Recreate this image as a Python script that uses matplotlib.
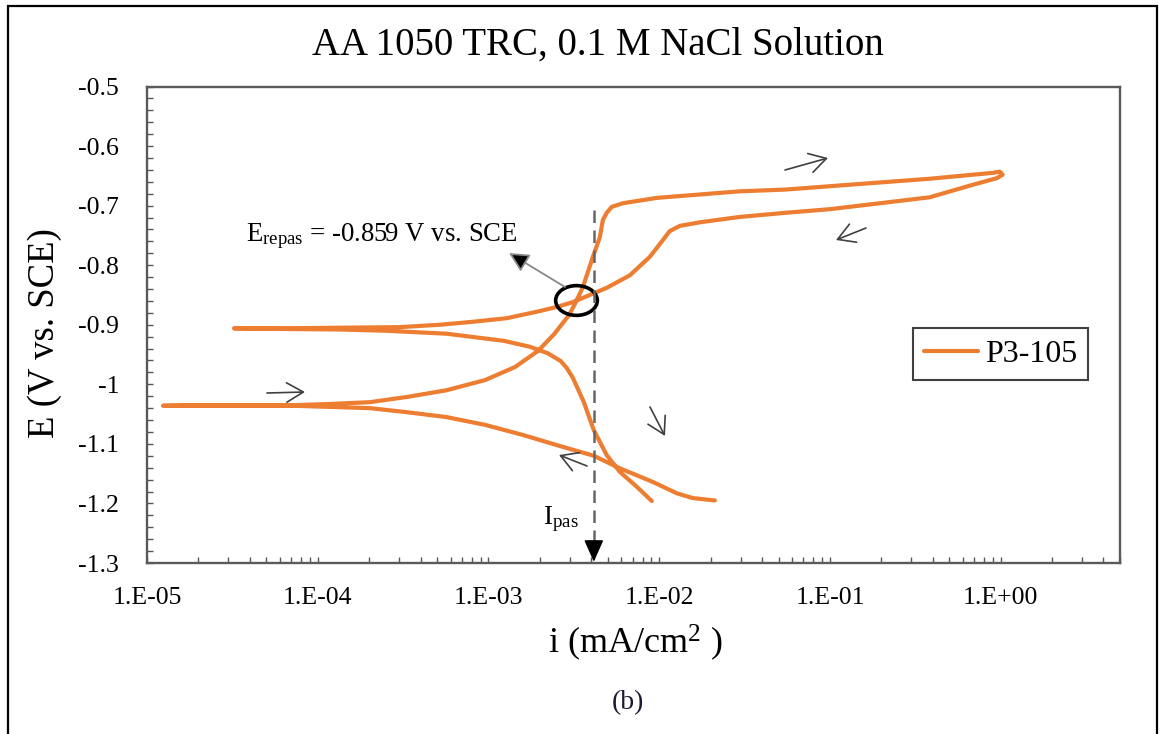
import matplotlib
matplotlib.use('Agg')
import matplotlib.pyplot as plt
from matplotlib.path import Path
from matplotlib.transforms import Affine2D
from matplotlib.ticker import LogLocator, MultipleLocator, FuncFormatter, NullFormatter
from matplotlib.patches import Rectangle
import numpy as np

plt.rcParams['font.family'] = ['Liberation Serif', 'DejaVu Serif']
plt.rcParams['mathtext.fontset'] = 'custom'
plt.rcParams['mathtext.rm'] = 'Liberation Serif'
plt.rcParams['mathtext.it'] = 'Liberation Serif:italic'

# forward scan: cathodic branch towards Ecorr, then anodic branch up to ~1 mA/cm2
i_fwd = [0.0212, 0.0157, 0.0127, 0.0092, 0.00588, 0.00414, 0.00265, 0.00159,
         0.000953, 0.000567, 0.000337, 0.000202, 0.000120, 7.2e-5, 4.0e-5, 2.0e-5, 1.24e-5,
         2.0e-5, 4.0e-5, 7.2e-5, 0.000118, 0.000202, 0.000337, 0.000567, 0.000953,
         0.00143, 0.00195, 0.00242, 0.00296, 0.00325, 0.00357, 0.00409, 0.00449,
         0.00468, 0.00493, 0.00528, 0.00612, 0.00968, 0.0296, 0.0551, 0.1435,
         0.379, 0.898, 0.987, 1.027]
E_fwd = [-1.195, -1.191, -1.183, -1.164, -1.141, -1.120, -1.104, -1.085,
         -1.068, -1.055, -1.047, -1.040, -1.038, -1.036, -1.036, -1.036, -1.036,
         -1.035, -1.035, -1.035, -1.033, -1.030, -1.021, -1.010, -0.993,
         -0.971, -0.944, -0.916, -0.884, -0.862, -0.837, -0.786, -0.753,
         -0.724, -0.712, -0.702, -0.696, -0.687, -0.676, -0.673, -0.664,
         -0.655, -0.645, -0.643, -0.648]

# reverse scan: back down through Erepas to the second Ecorr, then cathodic branch
i_rev = [0.948, 0.686, 0.384, 0.196, 0.0997, 0.0551, 0.0296, 0.0173, 0.0132,
         0.0115, 0.0105, 0.00881, 0.00673, 0.00493, 0.00392, 0.00312, 0.00252,
         0.00200, 0.00128, 0.000811, 0.000519, 0.000303, 0.000135, 6.0e-5, 3.23e-5,
         6.0e-5, 0.000135, 0.000247, 0.000567, 0.00123, 0.00175, 0.00223, 0.00265,
         0.00288, 0.00312, 0.00362, 0.00414, 0.00493, 0.00588, 0.00739, 0.00905]
E_rev = [-0.654, -0.665, -0.686, -0.696, -0.706, -0.712, -0.719, -0.728, -0.734,
         -0.743, -0.758, -0.786, -0.817, -0.838, -0.850, -0.862, -0.870,
         -0.877, -0.889, -0.895, -0.900, -0.904, -0.905, -0.906, -0.906,
         -0.907, -0.908, -0.910, -0.915, -0.927, -0.937, -0.948, -0.961,
         -0.973, -0.989, -1.030, -1.077, -1.119, -1.147, -1.172, -1.196]

E_repas = -0.859
i_repas = 3.25e-3
i_pas = 4.14e-3
E_pas_line = [-0.707, -1.275]
E_pas_tip = -1.298

x_ticks = [1e-5, 1e-4, 1e-3, 1e-2, 1e-1, 1e0]
x_labels = ['1.E-05', '1.E-04', '1.E-03', '1.E-02', '1.E-01', '1.E+00']

W, H = 1159, 734


def px(x, y):
    # reference pixel -> figure fraction
    return (x / W, 1 - y / H)


fig = plt.figure(figsize=(W / 100, H / 100), dpi=100)
ax = fig.add_axes([147 / W, 1 - 563 / H, (1120 - 147) / W, (563 - 86.5) / H])

orange = '#ED7D31'
ax.plot(i_fwd + i_rev, E_fwd + E_rev, color=orange, lw=3, solid_capstyle='round',
        solid_joinstyle='round', label='P3-105')

ax.set_xscale('log')
ax.set_xlim(1e-5, 5)
ax.set_ylim(-1.3, -0.5)

ax.set_xticks(x_ticks, x_labels)
ax.xaxis.set_minor_locator(LogLocator(base=10, subs=np.arange(2, 10), numticks=20))
ax.xaxis.set_minor_formatter(NullFormatter())
ax.yaxis.set_major_locator(MultipleLocator(0.1))
ax.yaxis.set_minor_locator(MultipleLocator(0.02))
ax.yaxis.set_major_formatter(FuncFormatter(lambda v, p: '%g' % round(v, 2)))

for s in ax.spines.values():
    s.set_color('#5a5a5a')
    s.set_linewidth(1.7)
ax.tick_params(which='both', direction='in', length=4, width=1, colors='#555555',
               labelcolor='black', labelsize=18.5)
ax.tick_params(axis='x', which='both', pad=17)
ax.tick_params(axis='y', which='both', pad=20)

# Erepas circle and pointer
ell = Path.unit_circle().transformed(Affine2D().scale(1.4, 1.0))
ax.plot([i_repas], [E_repas], marker=ell, ms=30, mfc='none', mec='black', mew=2.6, ls='none')
fig.text(*px(246, 241), 'E$_{\\mathrm{repas}}$ = -0.859 V vs. SCE', fontsize=19.3,
         ha='left', va='baseline')
ax.annotate('', xy=px(509, 253), xytext=px(565, 287), xycoords='figure fraction',
            textcoords='figure fraction',
            arrowprops=dict(arrowstyle='-|>,head_length=0.8,head_width=0.4',
                            facecolor='black', edgecolor='#888888', lw=1.3,
                            mutation_scale=15, shrinkA=0, shrinkB=0))

# ipas dashed line with arrow
ax.plot([i_pas, i_pas], E_pas_line, color='#666666', lw=1.8, dashes=(5, 3))
ax.annotate('', xy=(i_pas, E_pas_tip), xytext=(i_pas, E_pas_line[1]),
            arrowprops=dict(arrowstyle='-|>,head_length=0.9,head_width=0.4',
                            color='black', lw=1.2, mutation_scale=15,
                            shrinkA=0, shrinkB=0))
fig.text(*px(543, 524), 'I$_{\\mathrm{pas}}$', fontsize=19.5, ha='left', va='baseline')

# scan direction arrows
dir_arrows = [((785, 170), (828, 158)), ((866, 228), (836, 240)),
              ((267, 393), (305, 392)), ((650, 407), (665, 436)),
              ((587, 466), (559, 455))]
for tail, head in dir_arrows:
    ax.annotate('', xy=px(*head), xytext=px(*tail), xycoords='figure fraction',
                textcoords='figure fraction',
                arrowprops=dict(arrowstyle='->,head_length=0.6,head_width=0.35',
                                color='#404040', lw=1.2, mutation_scale=20,
                                shrinkA=0, shrinkB=0))

leg = ax.legend(loc='center', bbox_to_anchor=px(1000.5, 354), bbox_transform=fig.transFigure,
                fontsize=23, frameon=True, fancybox=False, edgecolor='#404040',
                handlelength=1.7, handletextpad=0.2, borderpad=0.35, borderaxespad=0,
                framealpha=1)
leg.get_frame().set_linewidth(1.5)

fig.text(*px(598, 45), 'AA 1050 TRC, 0.1 M NaCl Solution', fontsize=28, ha='center', va='center')
fig.text(*px(635, 643), 'i (mA/cm$^{2}$ )', fontsize=26, ha='center', va='center')
fig.text(*px(45, 333), 'E (V vs. SCE)', fontsize=26.5, ha='center', va='center', rotation=90)
fig.text(*px(628, 703), '(b)', fontsize=20, ha='center', va='center', color='#1a1a33')

fig.add_artist(Rectangle((8 / W, -0.05), (1157 - 8) / W, 1.05 - 6 / H,
                         transform=fig.transFigure, fill=False, ec='black', lw=1.6))

fig.savefig('out.png', dpi=100)
